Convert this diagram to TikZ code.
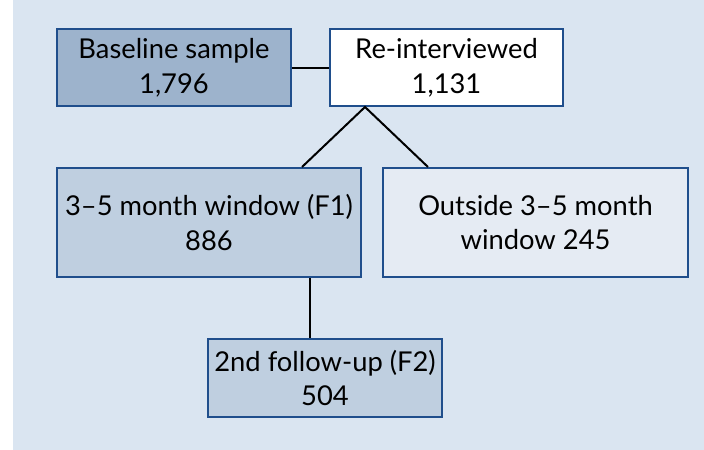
\documentclass[tikz,border=0pt]{standalone}
\usepackage{fontspec}
\setmainfont{Lato}
\usetikzlibrary{calc}
\definecolor{bgblue}{HTML}{DAE5F1}
\definecolor{edgeblue}{HTML}{1F4E8C}
\definecolor{fillA}{HTML}{9DB3CC}
\definecolor{fillB}{HTML}{BFCFE0}
\definecolor{fillC}{HTML}{E5EBF3}
\tikzset{
  flowbox/.style={draw=edgeblue, line width=1.5pt, rectangle, align=center, inner sep=0pt,
    font=\fontsize{20.5}{26}\selectfont, text=black},
  link/.style={draw=black, line width=1.5pt}
}
\begin{document}
\begin{tikzpicture}[x=0.75pt,y=-0.75pt]
\useasboundingbox (0,0) rectangle (704,450);
\fill[bgblue] (13,0) rectangle (704,450);
\node[flowbox, fill=fillA, minimum width=234*0.75pt, minimum height=77*0.75pt] (base) at (174,67.5) {Baseline sample\\1,796};
\node[flowbox, fill=white, minimum width=233*0.75pt, minimum height=77*0.75pt] (reint) at (446.5,67.5) {Re-interviewed\\1,131};
\node[flowbox, fill=fillB, minimum width=304*0.75pt, minimum height=109*0.75pt] (fone) at (209,222.5) {3–5 month window (F1)\\886};
\node[flowbox, fill=fillC, minimum width=305*0.75pt, minimum height=109*0.75pt] (outs) at (535.5,222.5) {Outside 3–5 month\\window 245};
\node[flowbox, fill=fillB, minimum width=234*0.75pt, minimum height=78*0.75pt] (ftwo) at (325,378) {2nd follow-up (F2)\\504};
\coordinate (apex) at (reint.south -| 365,0);
\coordinate (fonetop) at (fone.north -| 302,0);
\coordinate (outstop) at (outs.north -| 428,0);
\coordinate (fonebot) at (fone.south -| 310,0);
\coordinate (ftwotop) at (ftwo.north -| 310,0);
\draw[link] (base.east) -- (reint.west);
\draw[link] (fonetop) -- (apex) -- (outstop);
\draw[link] (fonebot) -- (ftwotop);
\end{tikzpicture}
\end{document}
